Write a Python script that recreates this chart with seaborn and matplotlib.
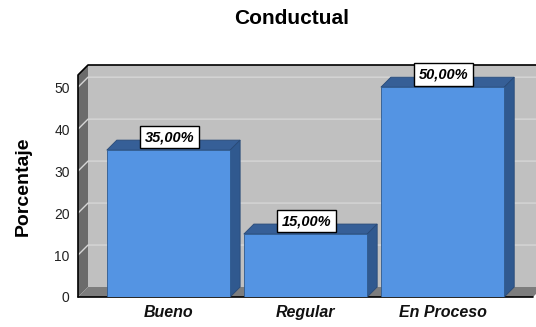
import matplotlib
matplotlib.use("Agg")
import matplotlib.pyplot as plt
import seaborn as sns
import pandas as pd
from matplotlib.patches import Polygon, Rectangle
from matplotlib.lines import Line2D

# ---- data ----
categories = ["Bueno", "Regular", "En Proceso"]
percentages = [35.0, 15.0, 50.0]
value_labels = ["35,00%", "15,00%", "50,00%"]
y_ticks = [0, 10, 20, 30, 40, 50]
title = "Conductual"
y_label = "Porcentaje"

sns.set_theme(style="white")
plt.rcParams['font.family'] = ['Liberation Sans', 'DejaVu Sans']

W, H = 536, 327
fig = plt.figure(figsize=(W / 100, H / 100), dpi=100)
ax = fig.add_axes([78 / W, (H - 297) / H, (533 - 78) / W, (297 - 75) / H])

df = pd.DataFrame({"Categoria": categories, "Porcentaje": percentages})
sns.barplot(data=df, x="Categoria", y="Porcentaje", color="#5494E3",
            saturation=1, width=0.9, edgecolor="#2F5A8E", linewidth=0.6,
            ax=ax, zorder=5)
bars = list(ax.patches)

ax.set_xlim(-0.66, 2.66)
ax.set_ylim(0, 52.9)
ax.set_facecolor("none")
for s in ax.spines.values():
    s.set_visible(False)

# depth in data units (10 px)
p0 = ax.transData.transform((0, 0))
px_x = ax.transData.transform((1, 0))[0] - p0[0]
px_y = ax.transData.transform((0, 1))[1] - p0[1]
dxd = 10 / px_x
dyd = 10 / px_y

x0, x1 = ax.get_xlim()
y0, y1 = ax.get_ylim()

# back wall
ax.add_patch(Rectangle((x0 + dxd, y0 + dyd), x1 - x0, y1 - y0,
                       facecolor="#C0C0C0", edgecolor="none", zorder=0, clip_on=False))
# left wall
ax.add_patch(Polygon([(x0, y0), (x0 + dxd, y0 + dyd), (x0 + dxd, y1 + dyd), (x0, y1)],
                     closed=True, facecolor="#6B6B6B", edgecolor="none", zorder=1, clip_on=False))
# floor
ax.add_patch(Polygon([(x0, y0), (x1, y0), (x1 + dxd, y0 + dyd), (x0 + dxd, y0 + dyd)],
                     closed=True, facecolor="#7D7D7D", edgecolor="none", zorder=1, clip_on=False))
# gridlines on walls
for t in y_ticks[1:]:
    ax.add_line(Line2D([x0, x0 + dxd, x1 + dxd], [t, t + dyd, t + dyd],
                       color="#D6D6D6", lw=1.0, zorder=2, clip_on=False))
# outline edges
ax.add_line(Line2D([x0, x0, x0 + dxd, x1 + dxd], [y0, y1, y1 + dyd, y1 + dyd],
                   color="black", lw=1.2, zorder=3, clip_on=False))
ax.add_line(Line2D([x0, x1], [y0, y0], color="black", lw=1.2, zorder=3, clip_on=False))

# 3D bar faces
for b in bars:
    bx, bw, bh = b.get_x(), b.get_width(), b.get_height()
    ax.add_patch(Polygon([(bx, bh), (bx + bw, bh), (bx + bw + dxd, bh + dyd), (bx + dxd, bh + dyd)],
                         closed=True, facecolor="#365F97", edgecolor="#284A78", lw=0.6,
                         zorder=4, clip_on=False))
    ax.add_patch(Polygon([(bx + bw, 0), (bx + bw + dxd, dyd), (bx + bw + dxd, bh + dyd), (bx + bw, bh)],
                         closed=True, facecolor="#30598F", edgecolor="#284A78", lw=0.6,
                         zorder=4, clip_on=False))

# value labels
for b, lab in zip(bars, value_labels):
    cx = b.get_x() + b.get_width() / 2
    ax.annotate(lab, (cx, b.get_height()), xytext=(1, 13), textcoords="offset pixels",
                ha="center", va="center", fontsize=10.5, fontweight="bold", fontstyle="italic",
                color="black", zorder=10,
                bbox=dict(boxstyle="square,pad=0.3", fc="white", ec="black", lw=1.0))

ax.set_yticks(y_ticks)
ax.set_yticklabels([str(t) for t in y_ticks], fontsize=10, color="#222222")
ax.set_xticks(range(len(categories)))
ax.set_xticklabels(categories, fontsize=11.5, fontweight="bold", fontstyle="italic", color="#111111")
ax.tick_params(axis="y", length=0, pad=6)
ax.tick_params(axis="x", length=0, pad=6)
ax.set_xlabel("")
ax.set_ylabel(y_label, fontsize=14, fontweight="bold", color="black")
ax.yaxis.set_label_coords(-0.101, 0.5)

fig.text(291.5 / W, 1 - 19 / H, title, ha="center", va="center",
         fontsize=15, fontweight="bold", color="black")

fig.savefig("out.png", dpi=100)
